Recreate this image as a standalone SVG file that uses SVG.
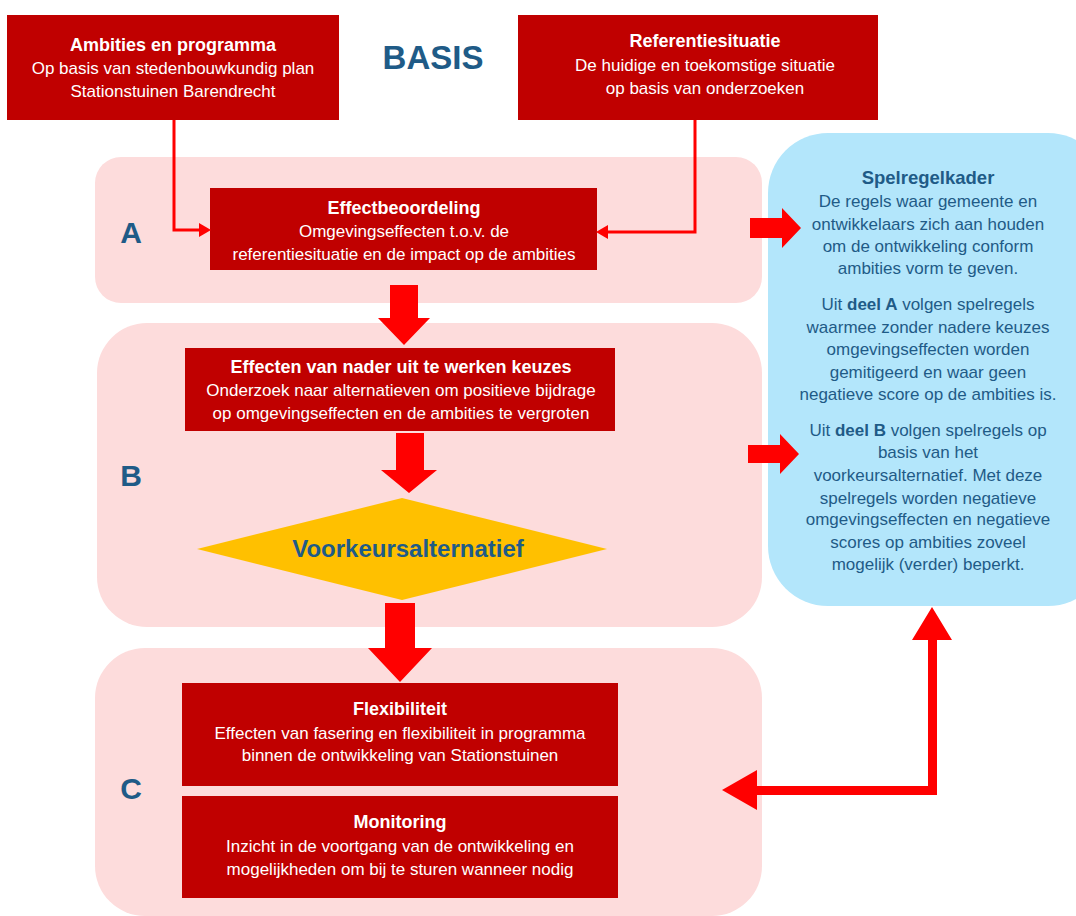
<svg xmlns="http://www.w3.org/2000/svg" width="1076" height="916" viewBox="0 0 1076 916">
<style>
.panel{fill:#FDDCDC}
.rbox{fill:#C00000}
.t{font-family:"Liberation Sans",Arial,sans-serif;fill:#FFFFFF;text-anchor:middle;font-size:17px}
.tt{font-family:"Liberation Sans",Arial,sans-serif;fill:#FFFFFF;text-anchor:middle;font-size:18px;font-weight:bold}
.b{font-family:"Liberation Sans",Arial,sans-serif;fill:#1F5B87;text-anchor:middle;font-size:17px}
.bt{font-family:"Liberation Sans",Arial,sans-serif;fill:#1F5B87;text-anchor:middle;font-size:18.5px;font-weight:bold}
.lbl{font-family:"Liberation Sans",Arial,sans-serif;fill:#1F5B87;font-size:30px;font-weight:bold;text-anchor:middle}
.arr{fill:#FF0000}
.ln{fill:none;stroke:#FF0000;stroke-width:3}
</style>
<rect width="1076" height="916" fill="#FFFFFF"/>

<g id="panel-A"><rect class="panel" x="95" y="157" width="667" height="146" rx="26"/><text class="lbl" x="131" y="243">A</text></g>
<g id="panel-B"><rect class="panel" x="97" y="323" width="665" height="304" rx="50"/><text class="lbl" x="131" y="486">B</text></g>
<g id="panel-C"><rect class="panel" x="95" y="648" width="667" height="268" rx="50"/><text class="lbl" x="131" y="799">C</text></g>

<g id="spelregelkader">
<rect x="768" y="133" width="340" height="473" rx="60" fill="#B3E6FB"/>
<text class="bt" x="928" y="184">Spelregelkader</text>
<text class="b" x="928" y="207">De regels waar gemeente en</text>
<text class="b" x="928" y="230">ontwikkelaars zich aan houden</text>
<text class="b" x="928" y="252">om de ontwikkeling conform</text>
<text class="b" x="928" y="274">ambities vorm te geven.</text>
<text class="b" x="928" y="310">Uit <tspan font-weight="bold">deel A</tspan> volgen spelregels</text>
<text class="b" x="928" y="333">waarmee zonder nadere keuzes</text>
<text class="b" x="928" y="355">omgevingseffecten worden</text>
<text class="b" x="928" y="378">gemitigeerd en waar geen</text>
<text class="b" x="928" y="400">negatieve score op de ambities is.</text>
<text class="b" x="928" y="436">Uit <tspan font-weight="bold">deel B</tspan> volgen spelregels op</text>
<text class="b" x="928" y="458">basis van het</text>
<text class="b" x="928" y="481">voorkeursalternatief. Met deze</text>
<text class="b" x="928" y="504">spelregels worden negatieve</text>
<text class="b" x="928" y="525">omgevingseffecten en negatieve</text>
<text class="b" x="928" y="548">scores op ambities zoveel</text>
<text class="b" x="928" y="570">mogelijk (verder) beperkt.</text>
</g>

<g id="basis"><text x="433" y="69" font-family="Liberation Sans,Arial,sans-serif" font-size="33" font-weight="bold" fill="#1F5B87" text-anchor="middle">BASIS</text></g>

<g id="ambities">
<rect class="rbox" x="7" y="15" width="332" height="105"/>
<text class="tt" x="173" y="51">Ambities en programma</text>
<text class="t" x="173" y="74">Op basis van stedenbouwkundig plan</text>
<text class="t" x="173" y="97">Stationstuinen Barendrecht</text>
</g>

<g id="referentiesituatie">
<rect class="rbox" x="518" y="15" width="360" height="105"/>
<text class="tt" x="705" y="47">Referentiesituatie</text>
<text class="t" x="705" y="71">De huidige en toekomstige situatie</text>
<text class="t" x="705" y="94">op basis van onderzoeken</text>
</g>

<g id="effectbeoordeling">
<rect class="rbox" x="210" y="188" width="387" height="82"/>
<text class="tt" x="404" y="214">Effectbeoordeling</text>
<text class="t" x="404" y="237">Omgevingseffecten t.o.v. de</text>
<text class="t" x="404" y="260">referentiesituatie en de impact op de ambities</text>
</g>

<g id="effecten-keuzes">
<rect class="rbox" x="185" y="348" width="430" height="83"/>
<text class="tt" x="401" y="373">Effecten van nader uit te werken keuzes</text>
<text class="t" x="401" y="396">Onderzoek naar alternatieven om positieve bijdrage</text>
<text class="t" x="401" y="419">op omgevingseffecten en de ambities te vergroten</text>
</g>

<g id="voorkeursalternatief">
<polygon points="197,549 402,498 607,549 402,600" fill="#FFC000"/>
<text x="408" y="557" font-family="Liberation Sans,Arial,sans-serif" font-size="24" font-weight="bold" fill="#1F5B87" text-anchor="middle">Voorkeursalternatief</text>
</g>

<g id="flexibiliteit">
<rect class="rbox" x="182" y="683" width="436" height="103"/>
<text class="tt" x="400" y="715">Flexibiliteit</text>
<text class="t" x="400" y="739">Effecten van fasering en flexibiliteit in programma</text>
<text class="t" x="400" y="761">binnen de ontwikkeling van Stationstuinen</text>
</g>

<g id="monitoring">
<rect class="rbox" x="182" y="796" width="436" height="102"/>
<text class="tt" x="400" y="828">Monitoring</text>
<text class="t" x="400" y="852">Inzicht in de voortgang van de ontwikkeling en</text>
<text class="t" x="400" y="875">mogelijkheden om bij te sturen wanneer nodig</text>
</g>

<g id="connectors">
<polyline class="ln" points="174,120 174,230 200,230"/>
<polygon class="arr" points="199,223 211,230 199,237"/>
<polyline class="ln" points="695,120 695,232 607,232"/>
<polygon class="arr" points="608,225 596,232 608,239"/>
<polygon class="arr" points="390,285 418,285 418,318 430,318 404,345 378,318 390,318"/>
<polygon class="arr" points="396,433 424,433 424,470 437,470 409,493 381,470 396,470"/>
<polygon class="arr" points="385,603 415,603 415,648 432,648 400,682 368,648 385,648"/>
<polygon class="arr" points="750,218 782,218 782,208 801,228 782,248 782,238 750,238"/>
<polygon class="arr" points="748,445 780,445 780,434 799,454 780,474 780,463 748,463"/>
<polygon class="arr" points="937,795 757,795 757,810 722,790 757,770 757,786 928,786 928,640 912,640 932,607 952,640 937,640"/>
</g>
</svg>
